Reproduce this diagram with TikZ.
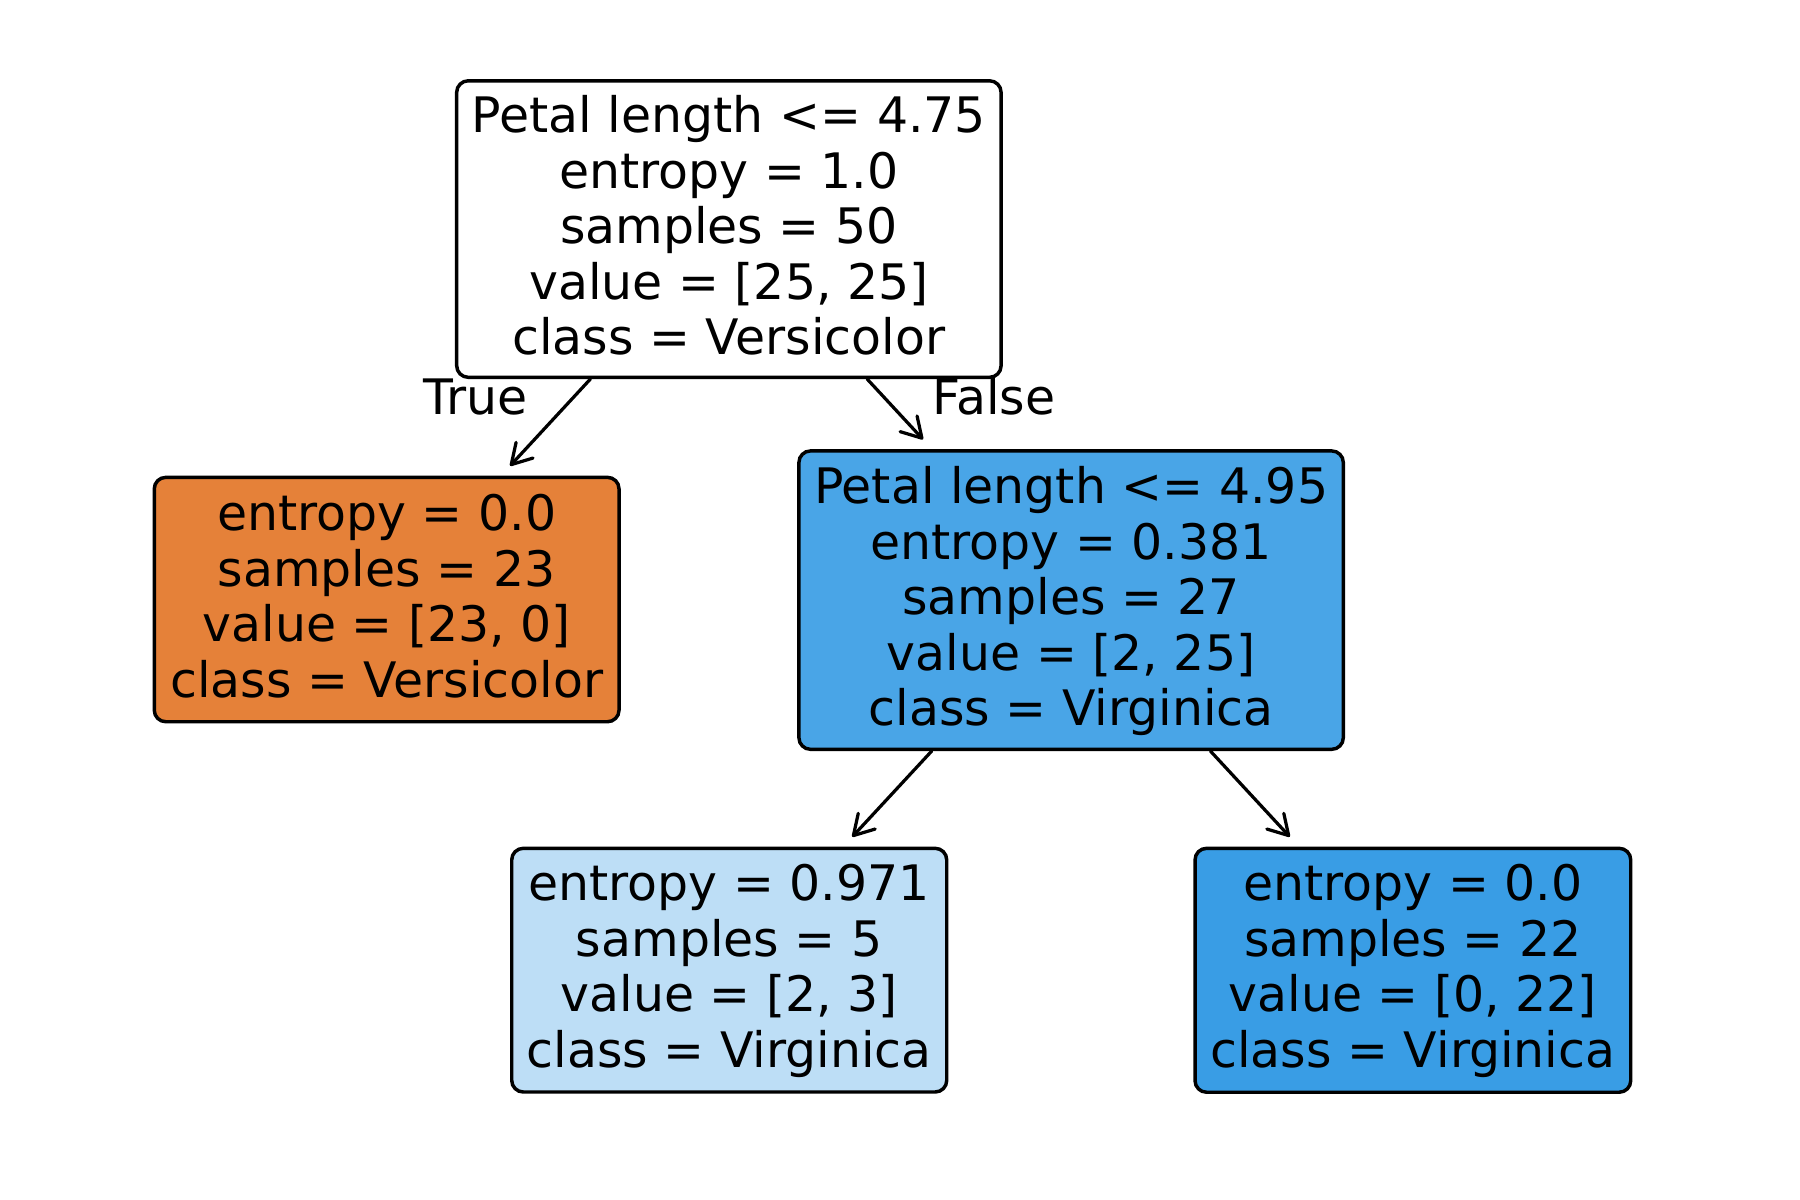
\documentclass[tikz,border=0pt]{standalone}
\usepackage{fontspec}
\setmainfont{DejaVu Sans}
\usetikzlibrary{arrows.meta}
\definecolor{orangeleaf}{HTML}{E58139}
\definecolor{bluemid}{HTML}{49A5E7}
\definecolor{bluelight}{HTML}{BDDEF6}
\definecolor{bluefull}{HTML}{399DE5}
\tikzset{
  treebox/.style={draw=black, line width=1.5pt, rounded corners=5pt, inner sep=0pt},
  boxtext/.style={align=center, inner sep=0pt,
    font=\fontsize{21.2}{24.05}\selectfont},
  edgearrow/.style={draw=black, line width=1.4pt, line cap=round, shorten >=5.8pt,
    -{Straight Barb[length=8.5pt,width=10pt,line width=1.4pt,round]}},
  edgelabel/.style={font=\fontsize{21.2}{24.05}\selectfont, inner sep=0pt, anchor=base}
}
\begin{document}
\begin{tikzpicture}[x=0.5pt,y=-0.5pt]
\useasboundingbox[fill=white] (0,0) rectangle (1560,1040);
\node[treebox, fill=white, minimum width=235.9pt, minimum height=128.5pt,
  label={[boxtext, yshift=1.6pt]center:{Petal length <= 4.75\\entropy = 1.0\\samples = 50\\value = [25, 25]\\class = Versicolor}}]
  (root) at (631.7,198.5) {};
\node[treebox, fill=orangeleaf, minimum width=201.4pt, minimum height=105.9pt,
  label={[boxtext, yshift=1.5pt]center:{entropy = 0.0\\samples = 23\\value = [23, 0]\\class = Versicolor}}]
  (left) at (335.1,519.6) {};
\node[treebox, fill=bluemid, minimum width=235.9pt, minimum height=129.3pt,
  label={[boxtext, yshift=-0.4pt]center:{Petal length <= 4.95\\entropy = 0.381\\samples = 27\\value = [2, 25]\\class = Virginica}}]
  (right) at (928.3,520.1) {};
\node[treebox, fill=bluelight, minimum width=188.5pt, minimum height=105.6pt,
  label={[boxtext, yshift=-0.3pt]center:{entropy = 0.971\\samples = 5\\value = [2, 3]\\class = Virginica}}]
  (bl) at (632.0,840.8) {};
\node[treebox, fill=bluefull, minimum width=188.8pt, minimum height=105.7pt,
  label={[boxtext, yshift=-0.3pt]center:{entropy = 0.0\\samples = 22\\value = [0, 22]\\class = Virginica}}]
  (br) at (1224.5,840.9) {};
\draw[edgearrow] (root) -- (left);
\draw[edgearrow] (root) -- (right);
\draw[edgearrow] (right) -- (bl);
\draw[edgearrow] (right) -- (br);
\node[edgelabel] (truelab) at (412.4,358.8) {True};
\node[edgelabel] (falselab) at (861.5,358.8) {False};
\end{tikzpicture}
\end{document}
